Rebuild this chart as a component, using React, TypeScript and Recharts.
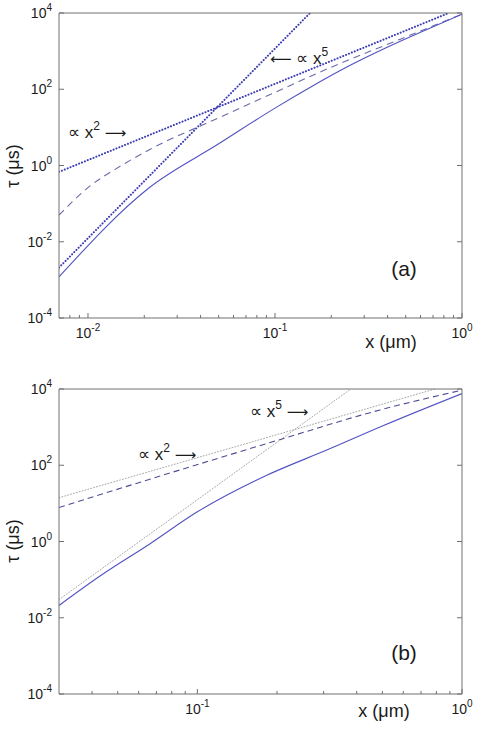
import { LineChart, Line, XAxis, YAxis } from 'recharts';

// panel (a)
const solidA = [
  { x: 0.007, t: 0.0012 },
  { x: 0.021, t: 0.25 },
  { x: 0.05, t: 3.7 },
  { x: 0.1, t: 32 },
  { x: 0.158, t: 120 },
  { x: 0.251, t: 417 },
  { x: 0.398, t: 1259 },
  { x: 0.631, t: 3467 },
  { x: 1, t: 9330 },
];
const dashedA = [
  { x: 0.007, t: 0.05 },
  { x: 0.01, t: 0.263 },
  { x: 0.0151, t: 1.0 },
  { x: 0.0214, t: 2.63 },
  { x: 0.05, t: 17.8 },
  { x: 0.1, t: 83 },
  { x: 0.2, t: 380 },
  { x: 0.45, t: 1905 },
  { x: 1, t: 9330 },
];
const squareA = [
  { x: 0.007, t: 0.68 },
  { x: 0.85, t: 10000 },
];
const fifthA = [
  { x: 0.007, t: 0.0021 },
  { x: 0.154, t: 10000 },
];

// panel (b)
const solidB = [
  { x: 0.03, t: 0.021 },
  { x: 0.043, t: 0.126 },
  { x: 0.0665, t: 0.89 },
  { x: 0.1, t: 6.0 },
  { x: 0.178, t: 50 },
  { x: 0.316, t: 269 },
  { x: 0.5, t: 1070 },
  { x: 1, t: 7590 },
];
const dashedB = [
  { x: 0.03, t: 7.8 },
  { x: 0.0863, t: 76 },
  { x: 0.2, t: 447 },
  { x: 0.49, t: 2820 },
  { x: 1, t: 9330 },
];
const squareB = [
  { x: 0.03, t: 14.1 },
  { x: 0.79, t: 10000 },
];
const fifthB = [
  { x: 0.03, t: 0.03 },
  { x: 0.38, t: 10000 },
];

const yTicks = [1e-4, 1e-2, 1, 1e2, 1e4];
const xTicksA = [0.008, 0.009, 0.01, 0.02, 0.03, 0.04, 0.05, 0.06, 0.07, 0.08, 0.09, 0.1, 0.2, 0.3, 0.4, 0.5, 0.6, 0.7, 0.8, 0.9, 1];
const xTicksB = [0.04, 0.05, 0.06, 0.07, 0.08, 0.09, 0.1, 0.2, 0.3, 0.4, 0.5, 0.6, 0.7, 0.8, 0.9, 1];

const AXIS = '#707070';
const INK = '#1a1a1a';
const FONT = '"Liberation Sans", Arial, sans-serif';
const ARROW_FONT = '"DejaVu Sans", sans-serif';

const expOf = (v: number) => {
  const e = Math.log10(v);
  return Math.abs(e - Math.round(e)) < 1e-6 ? Math.round(e) : null;
};

function Pow({ x, y, e, anchor }: any) {
  return (
    <text x={x} y={y} textAnchor={anchor} fontSize={14} fill={INK} fontFamily={FONT}>
      <tspan>10</tspan>
      <tspan dy={-7} fontSize={10}>{String(e)}</tspan>
    </text>
  );
}

function XTick({ x, y, payload, side }: any) {
  const e = expOf(payload.value);
  const len = e !== null ? 5 : 3;
  const dir = side === 'top' ? 1 : -1;
  return (
    <g>
      <line x1={x} y1={y} x2={x} y2={y + dir * len} stroke={AXIS} />
      {e !== null && side === 'bottom' && <Pow x={x} y={y + 20} e={e} anchor="middle" />}
    </g>
  );
}

function YTick({ x, y, payload, side }: any) {
  const e = expOf(payload.value);
  const dir = side === 'right' ? -1 : 1;
  return (
    <g>
      <line x1={x} y1={y} x2={x + dir * 5} y2={y} stroke={AXIS} />
      {side === 'left' && e !== null && <Pow x={x - 7} y={y + 5} e={e} anchor="end" />}
    </g>
  );
}

function Note({ x, y, before, pre, sup, after }: any) {
  return (
    <text x={x} y={y} fontSize={17} fill={INK} fontFamily={FONT}>
      {before && <tspan fontFamily={ARROW_FONT} fontSize={15}>{before} </tspan>}
      <tspan>{pre}</tspan>
      <tspan dy={-8} fontSize={12}>{sup}</tspan>
      {after ? (
        <tspan dy={8} fontFamily={ARROW_FONT} fontSize={15}> {after}</tspan>
      ) : (
        <tspan dy={8}> </tspan>
      )}
    </text>
  );
}

function Panel({ height, top, xDomain, xTicks, solid, dashed, square, fifth, dotColor, dotWidth, dotDash, dashColor, dashDash, tag, notes, xLabelY, xLabelX, tauY }: any) {
  const xAxisHeight = height - top - 305;
  return (
    <LineChart width={477} height={height} margin={{ top: top - 1, right: 14, left: 0, bottom: 0 }}>
      <XAxis
        dataKey="x"
        type="number"
        scale="log"
        domain={xDomain}
        allowDataOverflow
        ticks={xTicks}
        interval={0}
        tickSize={0}
        tickMargin={0}
        tickLine={false}
        height={xAxisHeight}
        stroke={AXIS}
        tick={(p: any) => <XTick {...p} side="bottom" />}
      />
      <XAxis
        xAxisId="top"
        orientation="top"
        type="number"
        scale="log"
        domain={xDomain}
        allowDataOverflow
        ticks={xTicks}
        interval={0}
        tickSize={0}
        tickMargin={0}
        tickLine={false}
        height={1}
        stroke={AXIS}
        tick={(p: any) => <XTick {...p} side="top" />}
      />
      <YAxis
        type="number"
        scale="log"
        domain={[1e-4, 1e4]}
        allowDataOverflow
        ticks={yTicks}
        interval={0}
        tickSize={0}
        tickMargin={0}
        tickLine={false}
        width={59}
        stroke={AXIS}
        tick={(p: any) => <YTick {...p} side="left" />}
      />
      <YAxis
        yAxisId="right"
        orientation="right"
        type="number"
        scale="log"
        domain={[1e-4, 1e4]}
        allowDataOverflow
        ticks={yTicks}
        interval={0}
        tickSize={0}
        tickMargin={0}
        tickLine={false}
        width={1}
        stroke={AXIS}
        tick={(p: any) => <YTick {...p} side="right" />}
      />
      <Line data={square} dataKey="t" type="linear" stroke={dotColor} strokeWidth={dotWidth} strokeDasharray={dotDash} strokeLinecap="round" dot={false} isAnimationActive={false} />
      <Line data={fifth} dataKey="t" type="linear" stroke={dotColor} strokeWidth={dotWidth} strokeDasharray={dotDash} strokeLinecap="round" dot={false} isAnimationActive={false} />
      <Line data={dashed} dataKey="t" type="monotone" stroke={dashColor} strokeWidth={1.1} strokeDasharray={dashDash} dot={false} isAnimationActive={false} />
      <Line data={solid} dataKey="t" type="monotone" stroke="#5252c4" strokeWidth={1.1} dot={false} isAnimationActive={false} />
      {notes.map((n: any, i: number) => (
        <Note key={i} {...n} />
      ))}
      <text x={404} y={tag.y} textAnchor="middle" fontSize={21} fill={INK} fontFamily={FONT}>{tag.text}</text>
      <text x={xLabelX} y={xLabelY} textAnchor="middle" fontSize={18} fill={INK} fontFamily={FONT}>x (μm)</text>
      <text x={14} y={tauY} transform={`rotate(-90 14 ${tauY})`} textAnchor="middle" dominantBaseline="middle" fontSize={18} fill={INK} fontFamily={FONT}>τ (μs)</text>
    </LineChart>
  );
}

export default function App() {
  return (
    <div style={{ position: 'absolute', left: 0, top: 0, width: 477, height: 733, background: '#fff' }}>
      <Panel
        height={360}
        top={13}
        xDomain={[0.007, 1]}
        xTicks={xTicksA}
        solid={solidA}
        dashed={dashedA}
        square={squareA}
        fifth={fifthA}
        dotColor="#3c3cb4"
        dotWidth={2}
        dotDash="0.1 3"
        dashColor="#6a6aa8"
        dashDash="7 5"
        tag={{ text: '(a)', y: 276 }}
        notes={[
          { x: 68, y: 138, pre: '∝ x', sup: '2', after: '⟶' },
          { x: 270, y: 64, before: '⟵', pre: '∝ x', sup: '5' },
        ]}
        xLabelX={391}
        xLabelY={348}
        tauY={166}
      />
      <Panel
        height={373}
        top={29}
        xDomain={[0.03, 1]}
        xTicks={xTicksB}
        solid={solidB}
        dashed={dashedB}
        square={squareB}
        fifth={fifthB}
        dotColor="#a8a8a8"
        dotWidth={1}
        dotDash="1 2"
        dashColor="#4c4c94"
        dashDash="6 4"
        tag={{ text: '(b)', y: 300 }}
        notes={[
          { x: 250, y: 57, pre: '∝ x', sup: '5', after: '⟶' },
          { x: 138, y: 100, pre: '∝ x', sup: '2', after: '⟶' },
        ]}
        xLabelX={384}
        xLabelY={357}
        tauY={181}
      />
    </div>
  );
}
